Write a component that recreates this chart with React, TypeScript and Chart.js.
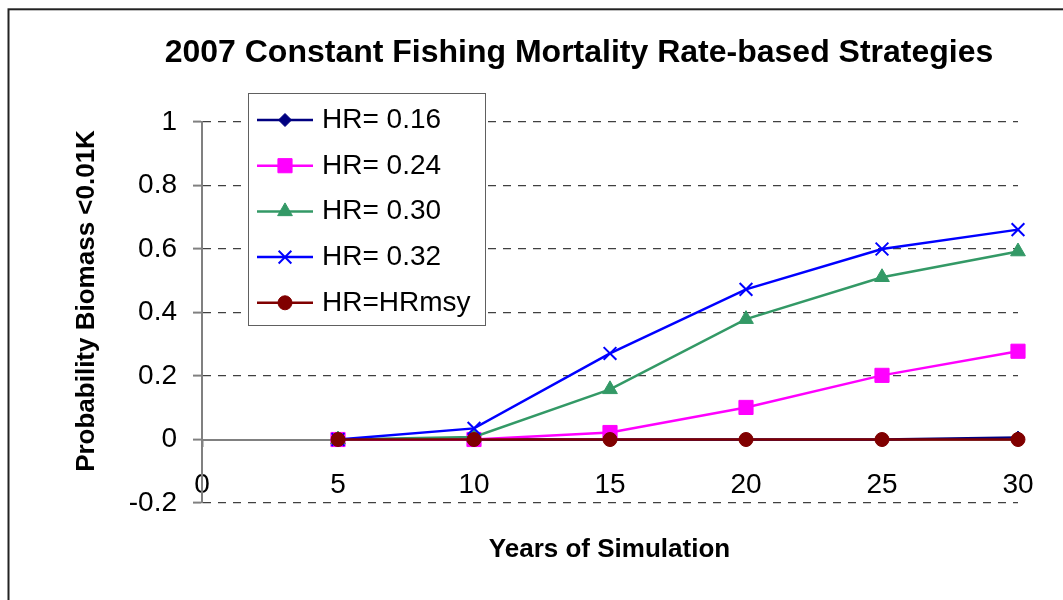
import React, { useEffect, useRef } from 'react';
import { Chart, registerables } from 'chart.js';
import { drawPoint } from 'chart.js/helpers';

Chart.register(...registerables);

const titleText = '2007 Constant Fishing Mortality Rate-based Strategies';
const xAxisTitle = 'Years of Simulation';
const yAxisTitle = 'Probability Biomass <0.01K';

const years = [5, 10, 15, 20, 25, 30];
const xTickValues = [0, 5, 10, 15, 20, 25, 30];
const xTickLabels = ['0', '5', '10', '15', '20', '25', '30'];
const yTickValues = [-0.2, 0, 0.2, 0.4, 0.6, 0.8, 1];
const yTickLabels = ['-0.2', '0', '0.2', '0.4', '0.6', '0.8', '1'];

const seriesNames = ['HR= 0.16', 'HR= 0.24', 'HR= 0.30', 'HR= 0.32', 'HR=HRmsy'];
const hr016 = [0, 0, 0, 0, 0, 0.006];
const hr024 = [0, 0, 0.022, 0.101, 0.202, 0.278];
const hr030 = [0, 0.008, 0.158, 0.379, 0.511, 0.592];
const hr032 = [0, 0.035, 0.271, 0.473, 0.6, 0.661];
const hrMsy = [0, 0, 0, 0, 0, 0];
const seriesValues = [hr016, hr024, hr030, hr032, hrMsy];

const seriesStyles = [
  { color: '#000080', marker: 'rectRot', radius: 6.5, bw: 1 },
  { color: '#FF00FF', marker: 'rect', radius: 10, bw: 1 },
  { color: '#339966', marker: 'triangle', radius: 8.5, bw: 1 },
  { color: '#0000FF', marker: 'crossRot', radius: 9, bw: 2 },
  { color: '#800000', marker: 'circle', radius: 7, bw: 1 },
];

const FONT = '"Liberation Sans", Arial, sans-serif';

const decorPlugin = {
  id: 'decor',
  afterDraw(chart: any) {
    const ctx = chart.ctx;
    ctx.save();
    // outer frame
    ctx.strokeStyle = '#222';
    ctx.lineWidth = 2;
    ctx.strokeRect(8.5, 9.3, 1200, 800);

    ctx.fillStyle = '#000';
    // main title
    ctx.font = `bold 32px ${FONT}`;
    ctx.textAlign = 'center';
    ctx.textBaseline = 'alphabetic';
    ctx.fillText(titleText, 579, 61.5);

    // x title
    ctx.font = `bold 26px ${FONT}`;
    ctx.fillText(xAxisTitle, 609.5, 556.5);

    // y title
    ctx.save();
    ctx.translate(94, 301);
    ctx.rotate(-Math.PI / 2);
    ctx.fillText(yAxisTitle, 0, 0);
    ctx.restore();

    // legend
    const lx = 248.5, ly = 93.5, lw = 237, lh = 232;
    ctx.fillStyle = '#fff';
    ctx.fillRect(lx, ly, lw, lh);
    ctx.strokeStyle = '#606060';
    ctx.lineWidth = 1;
    ctx.strokeRect(lx, ly, lw, lh);
    ctx.font = `28px ${FONT}`;
    ctx.textAlign = 'left';
    ctx.textBaseline = 'alphabetic';
    seriesNames.forEach((name, i) => {
      const st = seriesStyles[i];
      const cy = 120 + i * 45.7;
      ctx.strokeStyle = st.color;
      ctx.lineWidth = 2.5;
      ctx.beginPath();
      ctx.moveTo(257, cy);
      ctx.lineTo(313, cy);
      ctx.stroke();
      ctx.fillStyle = st.color;
      ctx.strokeStyle = st.color;
      ctx.lineWidth = st.bw;
      drawPoint(ctx, { pointStyle: st.marker, radius: st.radius, borderWidth: st.bw, rotation: 0 } as any, 285, cy);
      ctx.fillStyle = '#000';
      ctx.fillText(name, 322, cy + 8);
    });
    ctx.restore();
  },
};

export default function App() {
  const ref = useRef<HTMLCanvasElement | null>(null);

  useEffect(() => {
    document.body.style.margin = '0';
    const canvas = ref.current;
    if (!canvas) return;
    const chart = new Chart(canvas, {
      type: 'line',
      data: {
        datasets: seriesValues.map((vals, i) => {
          const st = seriesStyles[i];
          return {
            label: seriesNames[i],
            data: years.map((x, j) => ({ x, y: vals[j] })),
            borderColor: st.color,
            backgroundColor: st.color,
            borderWidth: 2.5,
            pointStyle: st.marker as any,
            pointRadius: st.radius,
            pointHoverRadius: st.radius,
            pointBorderWidth: st.bw,
            pointBackgroundColor: st.color,
            pointBorderColor: st.color,
            tension: 0,
            order: 5 - i,
            clip: false as any,
          };
        }),
      },
      options: {
        responsive: false,
        animation: false,
        devicePixelRatio: 1,
        events: [],
        layout: { padding: { left: 0, top: 122, right: 45, bottom: 97 } },
        plugins: {
          legend: { display: false },
          tooltip: { enabled: false },
          title: { display: false },
        },
        scales: {
          x: {
            type: 'linear',
            min: 0,
            max: 30,
            position: { y: 0 } as any,
            afterBuildTicks: (s: any) => {
              s.ticks = xTickValues.map((v) => ({ value: v }));
            },
            ticks: {
              callback: (_v: any, i: number) => xTickLabels[i],
              font: { family: FONT, size: 28 },
              color: '#000',
              padding: 23,
              maxRotation: 0,
              autoSkip: false,
            },
            grid: {
              drawOnChartArea: false,
              drawTicks: true,
              tickLength: 6,
              tickColor: '#808080',
              tickWidth: 2,
            },
            border: { color: '#808080', width: 2 },
          },
          y: {
            type: 'linear',
            min: -0.2,
            max: 1,
            position: 'left',
            afterBuildTicks: (s: any) => {
              s.ticks = yTickValues.map((v) => ({ value: v }));
            },
            afterFit: (s: any) => {
              s.width = 202;
            },
            ticks: {
              callback: (_v: any, i: number) => yTickLabels[i],
              font: { family: FONT, size: 28 },
              color: '#000',
              padding: 16,
            },
            grid: {
              color: (c: any) => (c.tick && Math.abs(c.tick.value) < 1e-9 ? 'rgba(0,0,0,0)' : '#404040'),
              lineWidth: 1.2,
              tickLength: 9,
              tickColor: '#808080',
              tickWidth: 2,
              tickBorderDash: [],
            } as any,
            border: { color: '#808080', width: 2, dash: [8, 7] },
          },
        },
      },
      plugins: [decorPlugin],
    });
    return () => chart.destroy();
  }, []);

  return (
    <div style={{ width: 1063, height: 600, overflow: 'hidden' }}>
      <canvas ref={ref} width={1063} height={600} style={{ display: 'block' }} />
    </div>
  );
}
